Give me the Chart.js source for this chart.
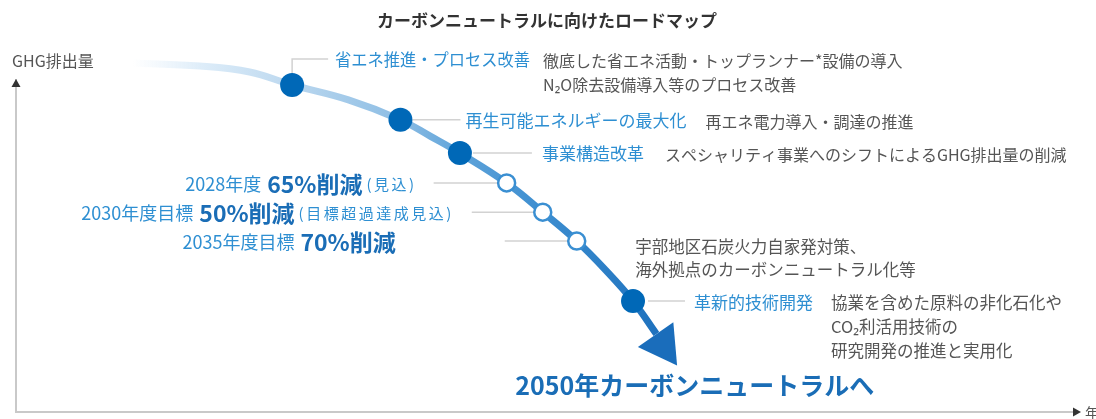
<!DOCTYPE html>
<html lang="ja">
<head>
<meta charset="utf-8">
<title>カーボンニュートラルに向けたロードマップ</title>
<script src="https://cdn.jsdelivr.net/npm/chart.js@4.4.1/dist/chart.umd.min.js"></script>
<style>
  html, body { margin: 0; padding: 0; background: #fff; }
  #wrap { width: 1096px; height: 419px; position: relative; }
</style>
</head>
<body>
<div id="wrap"><canvas id="roadmap"></canvas></div>
<script>
const FONT = "'Noto Sans CJK JP', 'Noto Sans', sans-serif";

const chartTitle = "カーボンニュートラルに向けたロードマップ";
const yAxisLabel = "GHG排出量";
const xAxisLabel = "年";
const goalLabel = "2050年カーボンニュートラルへ";

// GHG排出量カーブ（横軸=時間, 縦軸=排出量, 任意単位 0-100）
const curveX = [11.0, 17.3, 22.0, 26.0, 31.3, 36.2, 39.0, 41.8, 46.2, 49.6, 52.8, 55.5, 58.1, 60.3];
const curveY = [105.1, 104.2, 102.4, 98.5, 94.0, 88.0, 83.1, 78.0, 69.0, 60.2, 51.5, 42.8, 33.4, 23.5];

// 矢印の先端
const arrowX = [60.9];
const arrowY = [20.2];

// 施策（塗りつぶしの点）
const milestoneX = [26.0, 36.2, 41.8, 58.1];
const milestoneY = [98.5, 88.0, 78.0, 33.4];
const milestoneLabels = ["省エネ推進・プロセス改善", "再生可能エネルギーの最大化", "事業構造改革", "革新的技術開発"];
const milestoneNotes = [
  ["徹底した省エネ活動・トップランナー*設備の導入", "N₂O除去設備導入等のプロセス改善"],
  ["再エネ電力導入・調達の推進"],
  ["スペシャリティ事業へのシフトによるGHG排出量の削減"],
  ["協業を含めた原料の非化石化や", "CO₂利活用技術の", "研究開発の推進と実用化"],
];

// 削減目標（白抜きの点）
const targetX = [46.2, 49.6, 52.8];
const targetY = [69.0, 60.2, 51.5];
const targetYear = ["2028年度", "2030年度目標", "2035年度目標"];
const targetCut = ["65%削減", "50%削減", "70%削減"];
const targetNote = ["(見込)", "(目標超過達成見込)", ""];

// 点に付かない補足
const sideNoteX = [58.3];
const sideNoteY = [49.7];
const sideNote = ["宇部地区石炭火力自家発対策、", "海外拠点のカーボンニュートラル化等"];

// 引き出し線と文字の位置（点からのpx）
const leaders = [
  { up: true, dy: -26, to: 36, text: 43, note: 251, noteSize: 16 },
  { from: 12, to: 60, dy: 0, text: 65, note: 305, noteSize: 16 },
  { from: 13, to: 72, dy: 0, text: 82, note: 205, noteSize: 16 },
  { from: 15, to: 52, dy: 0, text: 61, note: 198, noteSize: 16.5 },
];
const targetLeader = [-73, -71, -72];
const targetTextRight = [-90, -89, -177];

const BLUE = "#2e8fd2";
const DARK_BLUE = "#1a6db6";
const GRAY = "#555";

function pt(xs, ys) {
  return xs.map((v, i) => ({ x: v, y: ys[i] }));
}

function curveGradient(context) {
  const chart = context.chart;
  if (!chart.chartArea) return "#4a97d5";
  const xs = chart.scales.x;
  const x0 = xs.getPixelForValue(curveX[0]);
  const x1 = xs.getPixelForValue(curveX[curveX.length - 1]);
  const g = chart.ctx.createLinearGradient(x0, 0, x1, 0);
  g.addColorStop(0, "rgba(225,238,249,0)");
  g.addColorStop(0.13, "rgba(222,237,249,1)");
  g.addColorStop(0.3, "#bcd8ef");
  g.addColorStop(0.51, "#8cbde4");
  g.addColorStop(0.63, "#5da2d9");
  g.addColorStop(0.78, "#3d8ed0");
  g.addColorStop(1, "#1f72be");
  return g;
}

const roadmapPlugin = {
  id: "roadmap",
  beforeDatasetsDraw(chart) {
    const { ctx, scales: { x, y } } = chart;
    ctx.save();
    ctx.strokeStyle = "#d2d2d2";
    ctx.lineWidth = 1.5;
    milestoneX.forEach((v, i) => {
      const px = x.getPixelForValue(v), py = y.getPixelForValue(milestoneY[i]);
      const l = leaders[i];
      ctx.beginPath();
      if (l.up) {
        ctx.moveTo(px, py);
        ctx.lineTo(px, py + l.dy);
        ctx.lineTo(px + l.to, py + l.dy);
      } else {
        ctx.moveTo(px + l.from, py + l.dy);
        ctx.lineTo(px + l.to, py + l.dy);
      }
      ctx.stroke();
    });
    targetX.forEach((v, i) => {
      const px = x.getPixelForValue(v), py = y.getPixelForValue(targetY[i]);
      ctx.beginPath();
      ctx.moveTo(px + targetLeader[i], py);
      ctx.lineTo(px, py);
      ctx.stroke();
    });

    // 軸の矢印
    const ox = x.getPixelForValue(0), oy = y.getPixelForValue(0);
    const ty = y.getPixelForValue(100), tx = x.getPixelForValue(100);
    ctx.fillStyle = "#333";
    ctx.beginPath();
    ctx.moveTo(ox, ty - 1);
    ctx.lineTo(ox - 4.5, ty + 7);
    ctx.lineTo(ox + 4.5, ty + 7);
    ctx.closePath();
    ctx.fill();
    ctx.beginPath();
    ctx.moveTo(tx + 3, oy);
    ctx.lineTo(tx - 5, oy - 4.5);
    ctx.lineTo(tx - 5, oy + 4.5);
    ctx.closePath();
    ctx.fill();

    ctx.fillStyle = GRAY;
    ctx.textBaseline = "middle";
    ctx.font = `16px ${FONT}`;
    ctx.textAlign = "left";
    ctx.fillText(yAxisLabel, ox - 4, ty - 19);
    ctx.font = `14px ${FONT}`;
    ctx.fillText(xAxisLabel, tx + 7, oy + 1);
    ctx.restore();
  },
  afterDatasetsDraw(chart) {
    const { ctx, scales: { x, y } } = chart;
    ctx.save();
    ctx.textBaseline = "middle";
    ctx.textAlign = "left";

    milestoneX.forEach((v, i) => {
      const px = x.getPixelForValue(v), py = y.getPixelForValue(milestoneY[i]);
      const l = leaders[i];
      const ly = py + l.dy + 1;
      ctx.font = `17px ${FONT}`;
      ctx.fillStyle = BLUE;
      ctx.fillText(milestoneLabels[i], px + l.text, ly, l.note - l.text - 13);
      ctx.font = `${l.noteSize}px ${FONT}`;
      ctx.fillStyle = GRAY;
      milestoneNotes[i].forEach((line, j) => {
        ctx.fillText(line, px + l.note, ly + 1 + j * 24);
      });
    });

    targetX.forEach((v, i) => {
      const px = x.getPixelForValue(v), py = y.getPixelForValue(targetY[i]);
      const parts = [
        { t: targetYear[i], f: `18px ${FONT}`, c: BLUE, gap: 6, sp: "0px" },
        { t: targetCut[i], f: `bold 23px ${FONT}`, c: DARK_BLUE, gap: 4, sp: "0px" },
        { t: targetNote[i], f: `15px ${FONT}`, c: BLUE, gap: 0, sp: "2.5px" },
      ];
      let total = 0;
      parts.forEach(p => {
        ctx.font = p.f;
        ctx.letterSpacing = p.sp;
        p.w = ctx.measureText(p.t).width;
        total += p.w + p.gap;
      });
      let cx = px + targetTextRight[i] - total;
      parts.forEach(p => {
        ctx.font = p.f;
        ctx.letterSpacing = p.sp;
        ctx.fillStyle = p.c;
        ctx.fillText(p.t, cx, py + 1);
        cx += p.w + p.gap;
      });
      ctx.letterSpacing = "0px";
    });

    ctx.font = `16.5px ${FONT}`;
    ctx.fillStyle = GRAY;
    const sx = x.getPixelForValue(sideNoteX[0]), sy = y.getPixelForValue(sideNoteY[0]);
    sideNote.forEach((line, j) => ctx.fillText(line, sx, sy + j * 23));

    ctx.font = `bold 25px ${FONT}`;
    ctx.fillStyle = DARK_BLUE;
    ctx.fillText(goalLabel, x.getPixelForValue(47.0), y.getPixelForValue(8.1));
    ctx.restore();
  },
};

Chart.defaults.font.family = FONT;

new Chart(document.getElementById("roadmap"), {
  type: "scatter",
  data: {
    datasets: [
      {
        data: pt(milestoneX, milestoneY),
        pointRadius: 12,
        backgroundColor: "#0068b7",
        borderWidth: 0,
        clip: false,
      },
      {
        data: pt(targetX, targetY),
        pointRadius: 8.5,
        backgroundColor: "#fff",
        borderColor: "#3a8fd2",
        borderWidth: 2.5,
        clip: false,
      },
      {
        data: pt(arrowX, arrowY),
        pointStyle: "triangle",
        rotation: 145,
        pointRadius: 25,
        backgroundColor: "#1a6dbb",
        borderWidth: 0,
        clip: false,
      },
      {
        data: pt(curveX, curveY),
        showLine: true,
        tension: 0.4,
        borderWidth: 7,
        borderColor: curveGradient,
        pointRadius: 0,
        clip: false,
      },
    ],
  },
  options: {
    responsive: true,
    maintainAspectRatio: false,
    animation: false,
    events: [],
    layout: { autoPadding: false, padding: { left: 16, right: 18, top: 0, bottom: 7 } },
    plugins: {
      legend: { display: false },
      tooltip: { enabled: false },
      title: {
        display: true,
        text: chartTitle,
        color: "#333",
        font: { size: 17, weight: "bold", family: FONT },
        padding: { top: 10, bottom: 49.6 },
      },
    },
    scales: {
      x: {
        type: "linear",
        min: 0,
        max: 100,
        ticks: { display: false },
        grid: { display: false, drawTicks: false },
        border: { display: true, color: "#c9c9c9", width: 2 },
      },
      y: {
        type: "linear",
        min: 0,
        max: 100,
        ticks: { display: false },
        grid: { display: false, drawTicks: false },
        border: { display: true, color: "#c9c9c9", width: 2 },
      },
    },
  },
  plugins: [roadmapPlugin],
});
</script>
</body>
</html>
